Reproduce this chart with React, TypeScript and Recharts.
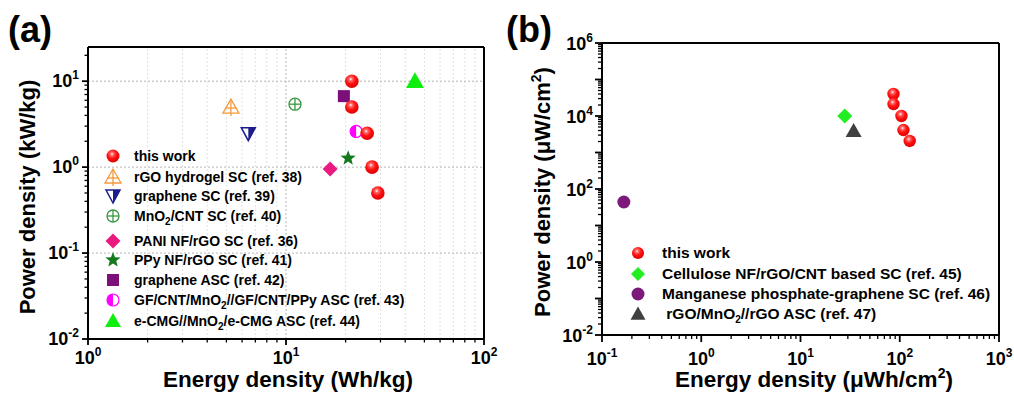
import React from "react";
import { ScatterChart, Scatter, XAxis, YAxis, ReferenceLine } from "recharts";

// ---------- data: panel (a) ----------
const aThisWork = [
  { x: 21.5, y: 10 },
  { x: 21.5, y: 5.0 },
  { x: 25.7, y: 2.48 },
  { x: 27.2, y: 1.0 },
  { x: 29.1, y: 0.5 },
];
const aRGOHydrogel = [{ x: 5.27, y: 5.0 }];
const aGrapheneSC = [{ x: 6.45, y: 2.45 }];
const aMnO2CNT = [{ x: 11.1, y: 5.4 }];
const aPANI = [{ x: 16.7, y: 0.95 }];
const aPPy = [{ x: 20.6, y: 1.27 }];
const aGrapheneASC = [{ x: 19.6, y: 6.7 }];
const aGF = [{ x: 22.6, y: 2.6 }];
const aECMG = [{ x: 44.8, y: 10 }];

// ---------- data: panel (b) ----------
const bThisWork = [
  { x: 86.5, y: 40100 },
  { x: 86.5, y: 21300 },
  { x: 104, y: 10000 },
  { x: 109, y: 4130 },
  { x: 126, y: 2070 },
];
const bCellulose = [{ x: 27.9, y: 10000 }];
const bMnPhos = [{ x: 0.166, y: 44 }];
const bRGOMnO2 = [{ x: 34.3, y: 3880 }];

// ---------- axes ----------
const aXDomain = [1, 100];
const aYDomain = [0.01, 25];
const aXMajor = [1, 10, 100];
const aYMajor = [0.01, 0.1, 1, 10];
const bXDomain = [0.1, 1000];
const bYDomain = [0.01, 1000000];
const bXMajor = [0.1, 1, 10, 100, 1000];
const bYMajor = [0.01, 0.1, 1, 10, 100, 1000, 10000, 100000, 1000000];
const bYLabelExps = [-2, 0, 2, 4, 6];

const aGridMajorX = [10];
const aGridMajorY = [0.1, 1, 10];

const minorMults = [2, 3, 4, 5, 6, 7, 8, 9];
function withMinors(majors: number[], max: number) {
  const out: number[] = [];
  majors.forEach((m) => {
    out.push(m);
    minorMults.forEach((k) => {
      const v = parseFloat((m * k).toPrecision(6));
      if (v <= max) out.push(v);
    });
  });
  return out.filter((v) => v <= max).sort((p, q) => p - q);
}
function minorsOnly(majors: number[], max: number) {
  return withMinors(majors, max).filter((v) => !majors.includes(v));
}

const FONT = "'Liberation Sans', Arial, Helvetica, sans-serif";

function expOf(v: number) {
  const e = Math.log10(v);
  const r = Math.round(e);
  return { major: Math.abs(e - r) < 1e-6, exp: r };
}

function makeXTick(labelExps: number[] | null, majLen: number, minLen: number, base: number) {
  return (props: any) => {
    const { x, y, payload } = props;
    const { major, exp } = expOf(payload.value);
    const show = major && (!labelExps || labelExps.includes(exp));
    return (
      <g>
        <line x1={x} y1={y} x2={x} y2={y + (major ? majLen : minLen)} stroke="#000" strokeWidth={major ? 1.8 : 1.3} />
        {show && (
          <text x={x} y={y + base} textAnchor="middle" fontFamily={FONT} fontWeight="bold" fontSize={18} fill="#000">
            10
            <tspan dy={-8} fontSize={12}>{exp}</tspan>
          </text>
        )}
      </g>
    );
  };
}
function makeYTick(labelExps: number[] | null, majLen: number, minLen: number, gap: number, base: number) {
  return (props: any) => {
    const { x, y, payload } = props;
    const { major, exp } = expOf(payload.value);
    const show = major && (!labelExps || labelExps.includes(exp));
    return (
      <g>
        <line x1={x} y1={y} x2={x - (major ? majLen : minLen)} y2={y} stroke="#000" strokeWidth={major ? 1.8 : 1.3} />
        {show && (
          <text x={x - gap} y={y + base} textAnchor="end" fontFamily={FONT} fontWeight="bold" fontSize={18} fill="#000">
            10
            <tspan dy={-8} fontSize={12}>{exp}</tspan>
          </text>
        )}
      </g>
    );
  };
}

// ---------- marker shapes ----------
const Sphere = (cx: number, cy: number, r = 6.5) => (
  <g>
    <defs>
      <radialGradient id="sphGrad" cx="0.42" cy="0.35" r="0.7">
        <stop offset="0" stopColor="#ffffff" />
        <stop offset="0.18" stopColor="#ff6a6a" />
        <stop offset="0.5" stopColor="#ff1010" />
        <stop offset="1" stopColor="#d40000" />
      </radialGradient>
    </defs>
    <circle cx={cx} cy={cy} r={r} fill="url(#sphGrad)" />
  </g>
);
const TriCross = (cx: number, cy: number) => (
  <g stroke="#f39a3c" strokeWidth={1.3} fill="none">
    <polygon points={`${cx},${cy - 8} ${cx - 8},${cy + 6} ${cx + 8},${cy + 6}`} />
    <line x1={cx} y1={cy - 8} x2={cx} y2={cy + 9} />
    <line x1={cx - 6} y1={cy + 1} x2={cx + 6} y2={cy + 1} />
  </g>
);
const TriDownHalf = (cx: number, cy: number) => (
  <g>
    <polygon points={`${cx - 7},${cy - 6} ${cx + 7},${cy - 6} ${cx},${cy + 7}`} fill="#fff" stroke="#1c1c8a" strokeWidth={1.5} />
    <polygon points={`${cx},${cy - 6} ${cx + 7},${cy - 6} ${cx},${cy + 7}`} fill="#1c1c8a" />
  </g>
);
const CirclePlus = (cx: number, cy: number) => (
  <g stroke="#3a9a44" strokeWidth={1.3} fill="none">
    <circle cx={cx} cy={cy} r={6} />
    <line x1={cx - 6} y1={cy} x2={cx + 6} y2={cy} />
    <line x1={cx} y1={cy - 6} x2={cx} y2={cy + 6} />
  </g>
);
const Diamond = (cx: number, cy: number, color: string, s = 7.5) => (
  <polygon points={`${cx},${cy - s} ${cx + s},${cy} ${cx},${cy + s} ${cx - s},${cy}`} fill={color} />
);
const Star = (cx: number, cy: number) => {
  const pts: string[] = [];
  for (let i = 0; i < 10; i++) {
    const r = i % 2 === 0 ? 8 : 3.4;
    const a = -Math.PI / 2 + (i * Math.PI) / 5;
    pts.push(`${cx + r * Math.cos(a)},${cy + r * Math.sin(a)}`);
  }
  return <polygon points={pts.join(" ")} fill="#137a1d" />;
};
const Square = (cx: number, cy: number) => (
  <rect x={cx - 6} y={cy - 6} width={12} height={12} fill="#7a1078" />
);
const HalfCircle = (cx: number, cy: number) => (
  <g>
    <circle cx={cx} cy={cy} r={6} fill="#fff" stroke="#ff00ff" strokeWidth={1.2} />
    <path d={`M ${cx} ${cy - 6} A 6 6 0 0 0 ${cx} ${cy + 6} Z`} fill="#ff00ff" />
  </g>
);
const TriUp = (cx: number, cy: number, color: string, s = 9) => (
  <polygon points={`${cx},${cy - s} ${cx - s},${cy + s * 0.75} ${cx + s},${cy + s * 0.75}`} fill={color} />
);
const Dot = (cx: number, cy: number, color: string) => <circle cx={cx} cy={cy} r={6.5} fill={color} />;

const sh = (fn: (cx: number, cy: number) => React.ReactElement) => (p: any) => fn(p.cx, p.cy);

// ---------- legends ----------
const legendA = [
  { name: "this work", icon: (x: number, y: number) => Sphere(x, y), y: 156 },
  { name: "rGO hydrogel SC (ref. 38)", icon: TriCross, y: 177 },
  { name: "graphene SC (ref. 39)", icon: TriDownHalf, y: 196 },
  { name: ["MnO", "2", "/CNT SC (ref. 40)"], icon: CirclePlus, y: 216 },
  { name: "PANI NF/rGO SC (ref. 36)", icon: (x: number, y: number) => Diamond(x, y, "#ea1b80"), y: 241 },
  { name: "PPy NF/rGO SC (ref. 41)", icon: Star, y: 260 },
  { name: "graphene ASC (ref. 42)", icon: Square, y: 280 },
  { name: ["GF/CNT/MnO", "2", "//GF/CNT/PPy ASC (ref. 43)"], icon: HalfCircle, y: 300 },
  { name: ["e-CMG//MnO", "2", "/e-CMG ASC (ref. 44)"], icon: (x: number, y: number) => TriUp(x, y, "#10ee10", 8), y: 321 },
];
const legendB = [
  { name: "this work", icon: (x: number, y: number) => Sphere(x, y, 6), y: 253 },
  { name: "Cellulose NF/rGO/CNT based SC (ref. 45)", icon: (x: number, y: number) => Diamond(x, y, "#22ee22", 7), y: 274 },
  { name: "Manganese phosphate-graphene SC (ref. 46)", icon: (x: number, y: number) => Dot(x, y, "#7b1a7b"), y: 294 },
  { name: [" rGO/MnO", "2", "//rGO ASC (ref. 47)"], icon: (x: number, y: number) => TriUp(x, y, "#404040", 7.5), y: 314 },
];

function LegendText({ x, y, name, size }: { x: number; y: number; name: string | string[]; size: number }) {
  if (typeof name === "string") {
    return (
      <text x={x} y={y} fontFamily={FONT} fontWeight="bold" fontSize={size} fill="#000" style={{ whiteSpace: "pre" }}>
        {name}
      </text>
    );
  }
  return (
    <text x={x} y={y} fontFamily={FONT} fontWeight="bold" fontSize={size} fill="#000" style={{ whiteSpace: "pre" }}>
      {name[0]}
      <tspan dy={4} fontSize={10}>{name[1]}</tspan>
      <tspan dy={-4}>{name[2]}</tspan>
    </text>
  );
}

export default function App() {
  const aXTicks = withMinors(aXMajor, 100);
  const aYTicks = withMinors(aYMajor, 25);
  const bXTicks = withMinors(bXMajor, 1000);
  const bYTicks = withMinors(bYMajor, 1000000);
  const aMinorGridX = minorsOnly(aXMajor, 100);

  return (
    <div style={{ position: "absolute", left: 0, top: 0, width: 1014, height: 396, background: "#fff" }}>
      {/* Panel (a) */}
      <div style={{ position: "absolute", left: 0, top: 0 }}>
        <ScatterChart width={500} height={396} margin={{ top: 47, right: 16, bottom: 27, left: 28 }}>
          <XAxis
            type="number"
            dataKey="x"
            scale="log"
            domain={aXDomain}
            allowDataOverflow
            ticks={aXTicks}
            interval={0}
            tickSize={0}
            tickMargin={0}
            height={30}
            axisLine={{ stroke: "#000", strokeWidth: 2 }}
            tickLine={false}
            tick={makeXTick(null, 6, 3.5, 25)}
          />
          <YAxis
            type="number"
            dataKey="y"
            scale="log"
            domain={aYDomain}
            allowDataOverflow
            ticks={aYTicks}
            interval={0}
            tickSize={0}
            tickMargin={0}
            width={60}
            axisLine={{ stroke: "#000", strokeWidth: 2 }}
            tickLine={false}
            tick={makeYTick(null, 6, 3.5, 9, 6)}
          />
          {aMinorGridX.map((v) => (
            <ReferenceLine key={"mx" + v} x={v} stroke="#e2e2e2" strokeDasharray="2 2" strokeWidth={1} />
          ))}
          {aGridMajorX.map((v) => (
            <ReferenceLine key={"gx" + v} x={v} stroke="#b5b5b5" strokeDasharray="2 2" strokeWidth={1} />
          ))}
          {aGridMajorY.map((v) => (
            <ReferenceLine key={"gy" + v} y={v} stroke="#b5b5b5" strokeDasharray="2 2" strokeWidth={1} />
          ))}
          <ReferenceLine x={100} stroke="#000" strokeWidth={2} />
          <ReferenceLine y={25} stroke="#000" strokeWidth={2} />
          <Scatter data={aRGOHydrogel} isAnimationActive={false} shape={sh(TriCross)} />
          <Scatter data={aGrapheneSC} isAnimationActive={false} shape={sh(TriDownHalf)} />
          <Scatter data={aMnO2CNT} isAnimationActive={false} shape={sh(CirclePlus)} />
          <Scatter data={aPANI} isAnimationActive={false} shape={sh((x, y) => Diamond(x, y, "#ea1b80"))} />
          <Scatter data={aPPy} isAnimationActive={false} shape={sh(Star)} />
          <Scatter data={aGrapheneASC} isAnimationActive={false} shape={sh(Square)} />
          <Scatter data={aGF} isAnimationActive={false} shape={sh(HalfCircle)} />
          <Scatter data={aECMG} isAnimationActive={false} shape={sh((x, y) => TriUp(x, y, "#10ee10", 9))} />
          <Scatter data={aThisWork} isAnimationActive={false} shape={sh((x, y) => Sphere(x, y, 6.8))} />
        </ScatterChart>
      </div>

      {/* Panel (b) */}
      <div style={{ position: "absolute", left: 500, top: 0 }}>
        <ScatterChart width={514} height={396} margin={{ top: 43, right: 15, bottom: 31, left: 42 }}>
          <XAxis
            type="number"
            dataKey="x"
            scale="log"
            domain={bXDomain}
            allowDataOverflow
            ticks={bXTicks}
            interval={0}
            tickSize={0}
            tickMargin={0}
            height={30}
            axisLine={{ stroke: "#000", strokeWidth: 2 }}
            tickLine={false}
            tick={makeXTick(null, 7, 4, 30)}
          />
          <YAxis
            type="number"
            dataKey="y"
            scale="log"
            domain={bYDomain}
            allowDataOverflow
            ticks={bYTicks}
            interval={0}
            tickSize={0}
            tickMargin={0}
            width={60}
            axisLine={{ stroke: "#000", strokeWidth: 2 }}
            tickLine={false}
            tick={makeYTick(bYLabelExps, 7, 4, 9, 7)}
          />
          <ReferenceLine x={1000} stroke="#000" strokeWidth={2} />
          <ReferenceLine y={1000000} stroke="#000" strokeWidth={2} />
          <Scatter data={bMnPhos} isAnimationActive={false} shape={sh((x, y) => Dot(x, y, "#7b1a7b"))} />
          <Scatter data={bCellulose} isAnimationActive={false} shape={sh((x, y) => Diamond(x, y, "#22ee22", 7.5))} />
          <Scatter data={bRGOMnO2} isAnimationActive={false} shape={sh((x, y) => TriUp(x, y, "#404040", 8))} />
          <Scatter data={bThisWork} isAnimationActive={false} shape={sh((x, y) => Sphere(x, y, 6.2))} />
        </ScatterChart>
      </div>

      {/* Overlay: titles, labels, legends */}
      <svg width={1014} height={396} style={{ position: "absolute", left: 0, top: 0, pointerEvents: "none" }}>
        <text x={8} y={42} fontFamily={FONT} fontWeight="bold" fontSize={36} fill="#000">(a)</text>
        <text x={506} y={42} fontFamily={FONT} fontWeight="bold" fontSize={36} fill="#000">(b)</text>

        <text x={288} y={387} textAnchor="middle" fontFamily={FONT} fontWeight="bold" fontSize={22.5} fill="#000">
          Energy density (Wh/kg)
        </text>
        <text x={35} y={197} transform="rotate(-90 35 197)" textAnchor="middle" fontFamily={FONT} fontWeight="bold" fontSize={22} fill="#000">
          Power density (kW/kg)
        </text>
        <text x={814} y={387} textAnchor="middle" fontFamily={FONT} fontWeight="bold" fontSize={22.5} fill="#000">
          Energy density (μWh/cm
          <tspan dy={-9} fontSize={14}>2</tspan>
          <tspan dy={9}>)</tspan>
        </text>
        <text x={550} y={192} transform="rotate(-90 550 192)" textAnchor="middle" fontFamily={FONT} fontWeight="bold" fontSize={22} fill="#000">
          Power density (μW/cm
          <tspan dy={-9} fontSize={14}>2</tspan>
          <tspan dy={9}>)</tspan>
        </text>

        {legendA.map((it, i) => (
          <g key={"la" + i}>
            {it.icon(113, it.y)}
            <LegendText x={134} y={it.y + 5} name={it.name} size={14} />
          </g>
        ))}
        {legendB.map((it, i) => (
          <g key={"lb" + i}>
            {it.icon(638, it.y)}
            <LegendText x={662} y={it.y + 5} name={it.name} size={15.5} />
          </g>
        ))}
      </svg>
    </div>
  );
}
